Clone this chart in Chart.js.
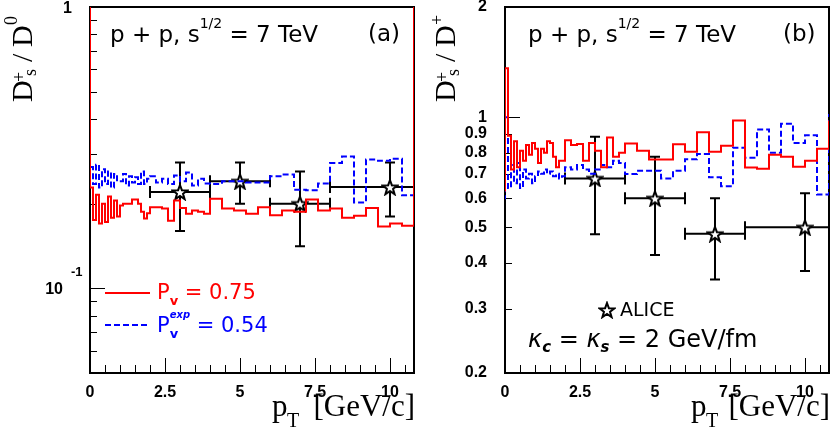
<!DOCTYPE html>
<html><head><meta charset="utf-8">
<script src="https://cdn.jsdelivr.net/npm/chart.js@4.4.1/dist/chart.umd.min.js"></script>
<style>
html,body{margin:0;padding:0;background:#fff;width:830px;height:436px;overflow:hidden}
#pa{position:absolute;left:0;top:0}
#pb{position:absolute;left:415px;top:0}
</style></head><body>
<canvas id="pa" width="415" height="436"></canvas>
<canvas id="pb" width="415" height="436"></canvas>
<script>
// ---- data ----
const binEdges = [-0.4, 0, 0.1, 0.2, 0.3, 0.4, 0.5, 0.6, 0.7, 0.8, 0.9, 1.0,
  1.1, 1.2, 1.3, 1.4, 1.5, 1.6, 1.7, 1.8, 1.9, 2.0,
  2.2, 2.4, 2.6, 2.8, 3.0, 3.2, 3.4, 3.6, 3.8, 4.0,
  4.4, 4.8, 5.2, 5.6, 6.0, 6.4, 6.8, 7.2, 7.6, 8.0, 8.4, 8.8, 9.2, 9.6, 10.0, 10.4, 10.8, 11.2];

const redA = [5,
  0.228, 0.175, 0.215, 0.17, 0.2, 0.172, 0.212, 0.178, 0.205, 0.18,
  0.197, 0.2, 0.2, 0.2, 0.207, 0.207, 0.2, 0.187, 0.177, 0.185,
  0.194, 0.194, 0.192, 0.174, 0.205, 0.193, 0.184, 0.189, 0.187, 0.184,
  0.208, 0.192, 0.189, 0.184, 0.194, 0.182, 0.189, 0.187, 0.207, 0.189, 0.192, 0.178, 0.181, 0.193, 0.166, 0.17, 0.167,
  5];
const blueA = [5,
  0.27, 0.235, 0.275, 0.228, 0.265, 0.235, 0.26, 0.228, 0.255, 0.24,
  0.24, 0.255, 0.232, 0.25, 0.238, 0.248, 0.235, 0.26, 0.235, 0.245,
  0.25, 0.238, 0.245, 0.235, 0.252, 0.24, 0.258, 0.232, 0.245, 0.236,
  0.235, 0.24, 0.24, 0.238, 0.238, 0.25, 0.254, 0.224, 0.223, 0.236, 0.279, 0.294, 0.202, 0.287, 0.284, 0.289, 0.214,
  5];
const redB = [0.63,
  1.36, 0.89, 0.72, 0.86, 0.73, 0.81, 0.76, 0.84, 0.79, 0.85,
  0.82, 0.75, 0.82, 0.8, 0.86, 0.85, 0.78, 0.73, 0.76, 0.76,
  0.865, 0.84, 0.845, 0.76, 0.85, 0.81, 0.73, 0.88, 0.78, 0.8,
  0.848, 0.81, 0.766, 0.766, 0.844, 0.804, 0.91, 0.804, 0.835, 0.98, 0.729, 0.723, 0.79, 0.78, 0.732, 0.76, 0.82,
  0.98];
const blueB = [0.6,
  1.0, 0.64, 0.74, 0.66, 0.75, 0.64, 0.72, 0.68, 0.7, 0.66,
  0.69, 0.71, 0.7, 0.72, 0.7, 0.71, 0.69, 0.7, 0.68, 0.69,
  0.73, 0.72, 0.74, 0.72, 0.7, 0.72, 0.74, 0.73, 0.76, 0.75,
  0.699, 0.714, 0.714, 0.68, 0.714, 0.767, 0.793, 0.685, 0.648, 0.825, 0.775, 0.926, 0.8, 0.96, 0.85, 0.893, 0.615,
  1.02];

const aliceX   = [3, 5, 7, 10];
const aliceXLo = [2, 4, 6, 8];
const aliceXHi = [4, 6, 8, 12];
const aliceA   = [0.22, 0.24, 0.20, 0.229];
const aliceALo = [0.16, 0.20, 0.141, 0.18];
const aliceAHi = [0.28, 0.28, 0.26, 0.28];
const aliceB   = [0.68, 0.60, 0.48, 0.50];
const aliceBLo = [0.479, 0.42, 0.36, 0.38];
const aliceBHi = [0.884, 0.78, 0.60, 0.62];

const xTickValues = [0, 2.5, 5, 7.5, 10];
const xTickLabels = ['0', '2.5', '5', '7.5', '10'];
const xMinorTicks = [0.5, 1, 1.5, 2, 3, 3.5, 4, 4.5, 5.5, 6, 6.5, 7, 8, 8.5, 9, 9.5, 10.5];
const yTicksA = [0.1, 1];
const yMinorA = [0.06, 0.07, 0.08, 0.09, 0.2, 0.3, 0.4, 0.5, 0.6, 0.7, 0.8, 0.9];
const yTicksB = [0.2, 0.3, 0.4, 0.5, 0.6, 0.7, 0.8, 0.9, 1, 2];
const yLabelsB = ['0.2', '0.3', '0.4', '0.5', '0.6', '0.7', '0.8', '0.9', '1', '2'];
const yMinorB = [0.3, 0.4, 0.5, 0.6, 0.7, 0.8, 0.9];

// ---- helpers ----
const RED = '#ff0000', BLUE = '#0000ff';
const SANS = '"DejaVu Sans"', SERIF = '"Liberation Serif"';

const starImg = (() => {
  const c = document.createElement('canvas'); c.width = 18; c.height = 18;
  const g = c.getContext('2d');
  g.beginPath();
  for (let i = 0; i < 10; i++) {
    const r = i % 2 ? 3.2 : 7.8;
    const a = -Math.PI / 2 + i * Math.PI / 5;
    const px = 9 + r * Math.cos(a), py = 9.8 + r * Math.sin(a);
    if (i) g.lineTo(px, py); else g.moveTo(px, py);
  }
  g.closePath();
  g.fillStyle = '#fff'; g.fill();
  g.lineWidth = 2; g.strokeStyle = '#000'; g.lineJoin = 'miter'; g.stroke();
  return c;
})();

function histPoints(edges, vals) {
  const pts = [];
  for (let i = 0; i < vals.length; i++) pts.push({x: edges[i], y: vals[i]});
  pts.push({x: edges[vals.length], y: vals[vals.length - 1]});
  return pts;
}

function rich(ctx, x, y, parts) {
  ctx.textAlign = 'left'; ctx.textBaseline = 'alphabetic';
  for (const p of parts) {
    ctx.font = p.f; ctx.fillStyle = p.c || '#000';
    ctx.fillText(p.t, x + (p.dx || 0), y + (p.dy || 0));
    if (!p.stack) x += ctx.measureText(p.t).width + (p.dx || 0);
  }
  return x;
}

function yTitle(ctx, bx, by, lastSup, lastRaise) {
  ctx.save();
  ctx.translate(bx, by); ctx.rotate(-Math.PI / 2);
  ctx.fillStyle = '#000'; ctx.textAlign = 'left'; ctx.textBaseline = 'alphabetic';
  const big = '30px ' + SERIF, small = '18px ' + SERIF;
  ctx.font = big; ctx.fillText('D', 0, 0);
  ctx.font = small; ctx.fillText('+', 20, -7); ctx.fillText('s', 26, 4);
  ctx.font = big; ctx.fillText('/', 40, 0); ctx.fillText('D', 55, 0);
  ctx.font = small; ctx.fillText(lastSup, 77, -lastRaise);
  ctx.restore();
}

function xTitle(ctx, px) {
  ctx.fillStyle = '#000'; ctx.textBaseline = 'alphabetic';
  ctx.textAlign = 'left';
  ctx.font = '31px ' + SERIF; ctx.fillText('p', px, 416);
  ctx.font = '20px ' + SERIF; ctx.fillText('T', px + 15, 427);
  ctx.textAlign = 'right';
  ctx.font = '31px ' + SERIF; ctx.fillText('[GeV/c]', 415, 416);
}

function headline(ctx, x, tag) {
  rich(ctx, x, 42, [
    {t: 'p + p, s', f: '23px ' + SANS},
    {t: '1/2', f: '14px ' + SANS, dy: -14},
    {t: ' = 7 TeV', f: '23px ' + SANS}
  ]);
  rich(ctx, 368, 41, [{t: tag, f: '23px ' + SANS}]);
}

const frameTicks = (yMajor, yMinor) => ({
  id: 'frameTicks',
  beforeDatasetsDraw(chart) {
    const {ctx, chartArea: ca, scales: {x, y}} = chart;
    ctx.save();
    ctx.strokeStyle = '#000'; ctx.lineWidth = 1;
    ctx.beginPath();
    xTickValues.forEach(v => { const p = Math.round(x.getPixelForValue(v)) + 0.5; ctx.moveTo(p, ca.bottom); ctx.lineTo(p, ca.bottom - 15); });
    xMinorTicks.forEach(v => { const p = Math.round(x.getPixelForValue(v)) + 0.5; ctx.moveTo(p, ca.bottom); ctx.lineTo(p, ca.bottom - 8); });
    yMajor.forEach(v => { const p = Math.round(y.getPixelForValue(v)) + 0.5; ctx.moveTo(ca.left, p); ctx.lineTo(ca.left + 15, p); });
    yMinor.forEach(v => { const p = Math.round(y.getPixelForValue(v)) + 0.5; ctx.moveTo(ca.left, p); ctx.lineTo(ca.left + 7, p); });
    ctx.stroke();
    ctx.lineWidth = 2;
    ctx.strokeRect(ca.left, ca.top, ca.right - ca.left, ca.bottom - ca.top);
    ctx.restore();
  }
});

const errorBars = (yv, ylo, yhi) => ({
  id: 'errorBars',
  beforeDatasetDraw(chart, args) {
    if (args.index !== 2) return;
    const {ctx, chartArea: ca, scales: {x, y}} = chart;
    ctx.save();
    ctx.beginPath(); ctx.rect(ca.left - 1, ca.top - 1, ca.right - ca.left + 2, ca.bottom - ca.top + 2); ctx.clip();
    ctx.strokeStyle = '#000'; ctx.lineWidth = 2;
    ctx.beginPath();
    for (let i = 0; i < aliceX.length; i++) {
      const px = x.getPixelForValue(aliceX[i]), py = y.getPixelForValue(yv[i]);
      const pl = x.getPixelForValue(aliceXLo[i]), pr = x.getPixelForValue(aliceXHi[i]);
      const pt = y.getPixelForValue(yhi[i]), pb = y.getPixelForValue(ylo[i]);
      ctx.moveTo(pl, py); ctx.lineTo(pr, py);
      ctx.moveTo(pl, py - 6); ctx.lineTo(pl, py + 6);
      ctx.moveTo(pr, py - 6); ctx.lineTo(pr, py + 6);
      ctx.moveTo(px, pt); ctx.lineTo(px, pb);
      ctx.moveTo(px - 5, pt); ctx.lineTo(px + 5, pt);
      ctx.moveTo(px - 5, pb); ctx.lineTo(px + 5, pb);
    }
    ctx.stroke();
    ctx.restore();
  }
});

function makePanel(id, o) {
  return new Chart(document.getElementById(id), {
    type: 'line',
    data: {datasets: [
      {data: histPoints(binEdges, o.red), borderColor: RED, borderWidth: 2, stepped: true, pointRadius: 0, fill: false},
      {data: histPoints(binEdges, o.blue), borderColor: BLUE, borderWidth: 2, borderDash: [6, 3], stepped: true, pointRadius: 0, fill: false},
      {data: aliceX.map((xv, i) => ({x: xv, y: o.pts[i]})), showLine: false, pointStyle: starImg, pointRadius: 8, borderColor: '#000', backgroundColor: '#fff'}
    ]},
    options: {
      responsive: false, animation: false, devicePixelRatio: 1,
      layout: {autoPadding: false, padding: {top: 7, right: 1, left: 0, bottom: 0}},
      plugins: {legend: {display: false}, tooltip: {enabled: false}},
      scales: {
        x: {
          type: 'linear', min: 0, max: 10.8,
          grid: {display: false, drawTicks: false}, border: {display: false},
          afterBuildTicks: s => { s.ticks = xTickValues.map(v => ({value: v})); },
          afterFit: s => { s.height = 63; s.paddingLeft = 0; s.paddingRight = 0; },
          ticks: {padding: 10, maxRotation: 0, autoSkip: false, color: '#000',
            font: {family: 'Liberation Sans', size: 16, weight: 'bold'},
            callback: (v, i) => xTickLabels[i]}
        },
        y: {
          type: 'logarithmic', min: o.ymin, max: o.ymax,
          grid: {display: false, drawTicks: false}, border: {display: false},
          afterBuildTicks: s => { s.ticks = o.yTicks.map(v => ({value: v})); },
          afterFit: s => { s.width = 90; s.paddingTop = 0; s.paddingBottom = 0; },
          ticks: {display: o.showY, padding: 18, autoSkip: false, color: '#000',
            font: {family: 'Liberation Sans', size: 16, weight: 'bold'},
            callback: (v, i) => o.yLabels ? o.yLabels[i] : ''}
        }
      }
    },
    plugins: [frameTicks(o.yMajor, o.yMinor), errorBars(o.pts, o.lo, o.hi), {id: 'texts', afterDraw: o.texts}]
  });
}

makePanel('pa', {
  red: redA, blue: blueA, pts: aliceA, lo: aliceALo, hi: aliceAHi,
  ymin: 0.05, ymax: 1, yTicks: yTicksA, showY: false, yMajor: [0.1], yMinor: yMinorA,
  texts(chart) {
    const ctx = chart.ctx, y = chart.scales.y;
    ctx.save();
    headline(ctx, 110, '(a)');
    ctx.fillStyle = '#000'; ctx.textAlign = 'right'; ctx.textBaseline = 'middle';
    ctx.font = 'bold 16px "Liberation Sans"';
    ctx.fillText('1', 72, y.getPixelForValue(1) + 2);
    ctx.fillText('10', 63, y.getPixelForValue(0.1) + 1);
    ctx.textAlign = 'left'; ctx.font = 'bold 13px "Liberation Sans"';
    ctx.fillText('-1', 71, y.getPixelForValue(0.1) - 16);
    // legend
    ctx.lineWidth = 2;
    ctx.strokeStyle = RED; ctx.setLineDash([]);
    ctx.beginPath(); ctx.moveTo(105, 293); ctx.lineTo(150, 293); ctx.stroke();
    ctx.strokeStyle = BLUE; ctx.setLineDash([6, 3]);
    ctx.beginPath(); ctx.moveTo(105, 325); ctx.lineTo(150, 325); ctx.stroke();
    ctx.setLineDash([]);
    rich(ctx, 157, 299, [
      {t: 'P', f: '21px ' + SANS, c: RED},
      {t: 'v', f: 'bold 13px ' + SANS, dy: 6, c: RED},
      {t: ' = 0.75', f: '21px ' + SANS, c: RED}
    ]);
    rich(ctx, 157, 332, [
      {t: 'P', f: '21px ' + SANS, c: BLUE},
      {t: 'v', f: 'bold 13px ' + SANS, dy: 6, c: BLUE, stack: true},
      {t: 'exp', f: 'italic bold 10px ' + SANS, dy: -14, c: BLUE},
      {t: ' = 0.54', f: '21px ' + SANS, c: BLUE}
    ]);
    yTitle(ctx, 32, 102, '0', 15);
    xTitle(ctx, 272);
    ctx.restore();
  }
});

makePanel('pb', {
  red: redB, blue: blueB, pts: aliceB, lo: aliceBLo, hi: aliceBHi,
  ymin: 0.2, ymax: 2, yTicks: yTicksB, yLabels: yLabelsB, showY: true, yMajor: [1], yMinor: yMinorB,
  texts(chart) {
    const ctx = chart.ctx;
    ctx.save();
    headline(ctx, 113, '(b)');
    ctx.drawImage(starImg, 192 - 9, 310 - 9);
    rich(ctx, 205, 316, [{t: 'ALICE', f: '19px ' + SANS}]);
    rich(ctx, 113, 347, [
      {t: 'κ', f: 'italic 24px ' + SANS},
      {t: 'c', f: 'italic bold 15px ' + SANS, dy: 5},
      {t: ' = ', f: '24px ' + SANS},
      {t: 'κ', f: 'italic 24px ' + SANS},
      {t: 's', f: 'italic bold 15px ' + SANS, dy: 5},
      {t: ' = 2 GeV/fm', f: '24px ' + SANS}
    ]);
    yTitle(ctx, 40, 102, '+', 12);
    xTitle(ctx, 276);
    ctx.restore();
  }
});
</script>
</body></html>
